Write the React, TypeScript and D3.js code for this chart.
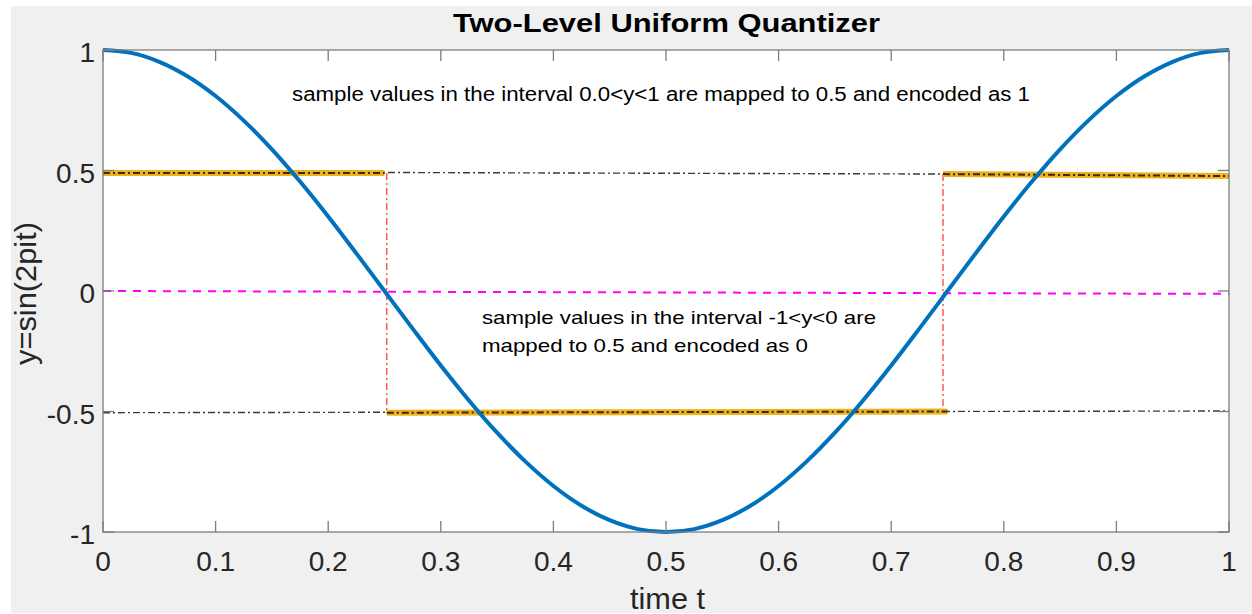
import React from "react";
import * as d3 from "d3";

// Curve samples (t, y)
const curveT = [0, 0.025, 0.05, 0.075, 0.1, 0.125, 0.15, 0.175, 0.2, 0.225, 0.25, 0.275, 0.3, 0.325, 0.35, 0.375, 0.4, 0.425, 0.45, 0.475, 0.5, 0.525, 0.55, 0.575, 0.6, 0.625, 0.65, 0.675, 0.7, 0.725, 0.75, 0.775, 0.8, 0.825, 0.85, 0.875, 0.9, 0.925, 0.95, 0.975, 1];
const curveY = [1, 0.988, 0.951, 0.891, 0.809, 0.707, 0.588, 0.454, 0.309, 0.156, 0, -0.156, -0.309, -0.454, -0.588, -0.707, -0.809, -0.891, -0.951, -0.988, -1, -0.988, -0.951, -0.891, -0.809, -0.707, -0.588, -0.454, -0.309, -0.156, 0, 0.156, 0.309, 0.454, 0.588, 0.707, 0.809, 0.891, 0.951, 0.988, 1];

// Quantizer output segments [t0, y0, t1, y1]
const quantSegments: [number, number, number, number][] = [
  [0, 0.49, 0.25, 0.49],
  [0.252, -0.505, 0.75, -0.5],
  [0.746, 0.485, 1, 0.477],
];
// Reference level lines (black dash-dot)
const levelLines: [number, number, number, number][] = [
  [0, 0.495, 1, 0.482],
  [0, -0.505, 1, -0.498],
];
// Zero threshold line (magenta dashed)
const zeroLine: [number, number, number, number] = [0, 0, 1, -0.012];
// Decision boundaries (red dash-dot)
const boundaries: [number, number, number, number][] = [
  [0.252, 0.49, 0.252, -0.505],
  [0.746, 0.485, 0.746, -0.5],
];

const xTicks = [0, 0.1, 0.2, 0.3, 0.4, 0.5, 0.6, 0.7, 0.8, 0.9, 1];
const yTicks = [-1, -0.5, 0, 0.5, 1];
const xTickLabels = ["0", "0.1", "0.2", "0.3", "0.4", "0.5", "0.6", "0.7", "0.8", "0.9", "1"];
const yTickLabels = ["-1", "-0.5", "0", "0.5", "1"];

const title = "Two-Level Uniform Quantizer";
const xLabel = "time t";
const yLabel = "y=sin(2pit)";
const note1 = "sample values in the interval 0.0<y<1 are mapped to 0.5 and encoded as 1";
const note2a = "sample values in the interval -1<y<0 are";
const note2b = "mapped to 0.5 and encoded as 0";

export default function App() {
  const W = 1252, H = 614;
  const left = 103, right = 1229, top = 50, bottom = 532;
  const x = d3.scaleLinear().domain([0, 1]).range([left, right]);
  const y = d3.scaleLinear().domain([-1, 1]).range([bottom, top]);
  const line = d3
    .line<number>()
    .x((_, i) => x(curveT[i]))
    .y((d) => y(d))
    .curve(d3.curveCatmullRom);
  const font = "'Liberation Sans', Arial, Helvetica, sans-serif";
  const axisColor = "#7d7d7d";
  const seg = (s: [number, number, number, number]) => ({ x1: x(s[0]), y1: y(s[1]), x2: x(s[2]), y2: y(s[3]) });

  return (
    <svg width={W} height={H} style={{ position: "absolute", left: 0, top: 0 }} fontFamily={font}>
      <rect x={0} y={0} width={W} height={H} fill="#ffffff" />
      <rect x={11} y={6} width={W - 11} height={H - 7} fill="#f0f0f0" />
      <rect x={left} y={top} width={right - left} height={bottom - top} fill="#ffffff" />

      {/* level lines */}
      {levelLines.map((s, i) => (
        <line key={"lv" + i} {...seg(s)} stroke="#3a3a3a" strokeWidth={1.4} strokeDasharray="7,3,2,3" />
      ))}
      {/* zero line */}
      <line {...seg(zeroLine)} stroke="#ff00ff" strokeWidth={2} strokeDasharray="8,7" />
      {/* boundaries */}
      {boundaries.map((s, i) => (
        <line key={"bd" + i} {...seg(s)} stroke="#ff4d4d" strokeWidth={1.4} strokeDasharray="7,3,2,3" />
      ))}
      {/* quantizer output */}
      {quantSegments.map((s, i) => (
        <g key={"q" + i}>
          <line {...seg(s)} stroke="#EDB120" strokeWidth={6} />
          <line {...seg(s)} stroke="#3a2a00" strokeWidth={2} strokeDasharray="7,3,2,3" />
        </g>
      ))}
      {/* curve */}
      <path d={line(curveY) || ""} fill="none" stroke="#0072BD" strokeWidth={4} />

      {/* box */}
      <rect x={left} y={top} width={right - left} height={bottom - top} fill="none" stroke={axisColor} strokeWidth={1.3} />
      {xTicks.map((t, i) => (
        <g key={"xt" + i}>
          <line x1={x(t)} x2={x(t)} y1={bottom} y2={bottom - 11} stroke={axisColor} strokeWidth={1.3} />
          <line x1={x(t)} x2={x(t)} y1={top} y2={top + 11} stroke={axisColor} strokeWidth={1.3} />
          <text x={x(t)} y={571} textAnchor="middle" fontSize={28} fill="#262626">{xTickLabels[i]}</text>
        </g>
      ))}
      {yTicks.map((t, i) => (
        <g key={"yt" + i}>
          <line x1={left} x2={left + 11} y1={y(t)} y2={y(t)} stroke={axisColor} strokeWidth={1.3} />
          <line x1={right} x2={right - 11} y1={y(t)} y2={y(t)} stroke={axisColor} strokeWidth={1.3} />
          <text x={95} y={y(t) + 12} textAnchor="end" fontSize={28} fill="#262626">{yTickLabels[i]}</text>
        </g>
      ))}

      <text x={666.5} y={32} textAnchor="middle" fontSize={25} fontWeight="bold" fill="#000" textLength={427} lengthAdjust="spacingAndGlyphs">{title}</text>
      <text x={667.5} y={609} textAnchor="middle" fontSize={29} fill="#262626" textLength={75} lengthAdjust="spacingAndGlyphs">{xLabel}</text>
      <text transform={`translate(36,${293.5}) rotate(-90)`} textAnchor="middle" fontSize={29} fill="#262626" textLength={143} lengthAdjust="spacingAndGlyphs">{yLabel}</text>

      <text x={292} y={101} fontSize={20} fill="#000" textLength={738} lengthAdjust="spacingAndGlyphs">{note1}</text>
      <text x={482} y={324} fontSize={19} fill="#000" textLength={394} lengthAdjust="spacingAndGlyphs">{note2a}</text>
      <text x={482} y={352} fontSize={19} fill="#000" textLength={326} lengthAdjust="spacingAndGlyphs">{note2b}</text>
    </svg>
  );
}
